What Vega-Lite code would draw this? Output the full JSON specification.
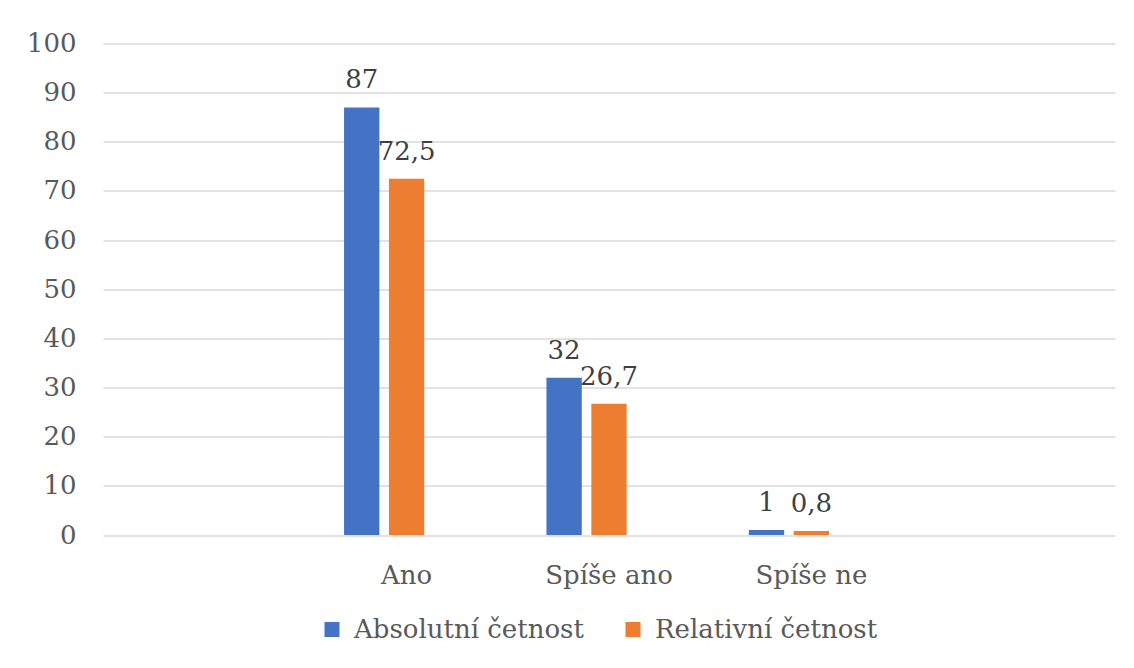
{
  "$schema": "https://vega.github.io/schema/vega-lite/v6.json",
  "width": 1012,
  "height": 491.5,
  "autosize": {"type": "none"},
  "padding": {"left": 103, "top": 43.5, "right": 19, "bottom": 133},
  "background": "white",
  "config": {
    "view": {"stroke": null},
    "font": "DejaVu Serif",
    "locale": {"number": {"decimal": ",", "thousands": "\u00a0", "grouping": [3], "currency": ["", "\u00a0Kč"]}}
  },
  "data": {
    "values": [
      {"kategorie": "Ano", "rada": "Absolutní četnost", "hodnota": 87},
      {"kategorie": "Ano", "rada": "Relativní četnost", "hodnota": 72.5},
      {"kategorie": "Spíše ano", "rada": "Absolutní četnost", "hodnota": 32},
      {"kategorie": "Spíše ano", "rada": "Relativní četnost", "hodnota": 26.7},
      {"kategorie": "Spíše ne", "rada": "Absolutní četnost", "hodnota": 1},
      {"kategorie": "Spíše ne", "rada": "Relativní četnost", "hodnota": 0.8}
    ]
  },
  "encoding": {
    "x": {
      "field": "kategorie",
      "type": "nominal",
      "scale": {"domain": [" ", "Ano", "Spíše ano", "Spíše ne", "  "], "paddingInner": 0.382, "paddingOuter": 0.191, "align": 0.5},
      "axis": {
        "title": null,
        "labelAngle": 0,
        "ticks": false,
        "domain": false,
        "labelFont": "DejaVu Serif",
        "labelFontSize": 26,
        "labelColor": "#595959",
        "labelBaseline": "alphabetic",
        "labelPadding": 48,
        "labelLimit": 400
      }
    },
    "xOffset": {
      "field": "rada",
      "type": "nominal",
      "scale": {"domain": ["Absolutní četnost", "Relativní četnost", "_"], "paddingInner": 0.213, "paddingOuter": 0}
    },
    "y": {
      "field": "hodnota",
      "type": "quantitative",
      "scale": {"domain": [0, 100], "nice": false},
      "axis": {
        "title": null,
        "values": [0, 10, 20, 30, 40, 50, 60, 70, 80, 90, 100],
        "ticks": false,
        "domain": false,
        "labelFont": "DejaVu Serif",
        "labelFontSize": 26,
        "labelColor": "#595959",
        "labelPadding": 27,
        "gridColor": "#d9d9d9",
        "gridWidth": 1.5
      }
    }
  },
  "layer": [
    {
      "mark": {"type": "bar"},
      "encoding": {
        "color": {
          "field": "rada",
          "type": "nominal",
          "scale": {"domain": ["Absolutní četnost", "Relativní četnost"], "range": ["#4472C4", "#ED7D31"]},
          "legend": {
            "title": null,
            "orient": "none",
            "direction": "horizontal",
            "legendX": 216,
            "legendY": 573,
            "symbolType": "square",
            "symbolSize": 225,
            "symbolStrokeWidth": 0,
            "labelFont": "DejaVu Serif",
            "labelFontSize": 26,
            "labelColor": "#595959",
            "labelOffset": 9,
            "columnPadding": 36,
            "labelLimit": 400
          }
        }
      }
    },
    {
      "mark": {"type": "text", "baseline": "alphabetic", "dy": -19, "font": "DejaVu Serif", "fontSize": 26, "color": "#404040"},
      "encoding": {
        "text": {"field": "hodnota", "type": "quantitative", "format": "~g"}
      }
    }
  ]
}
